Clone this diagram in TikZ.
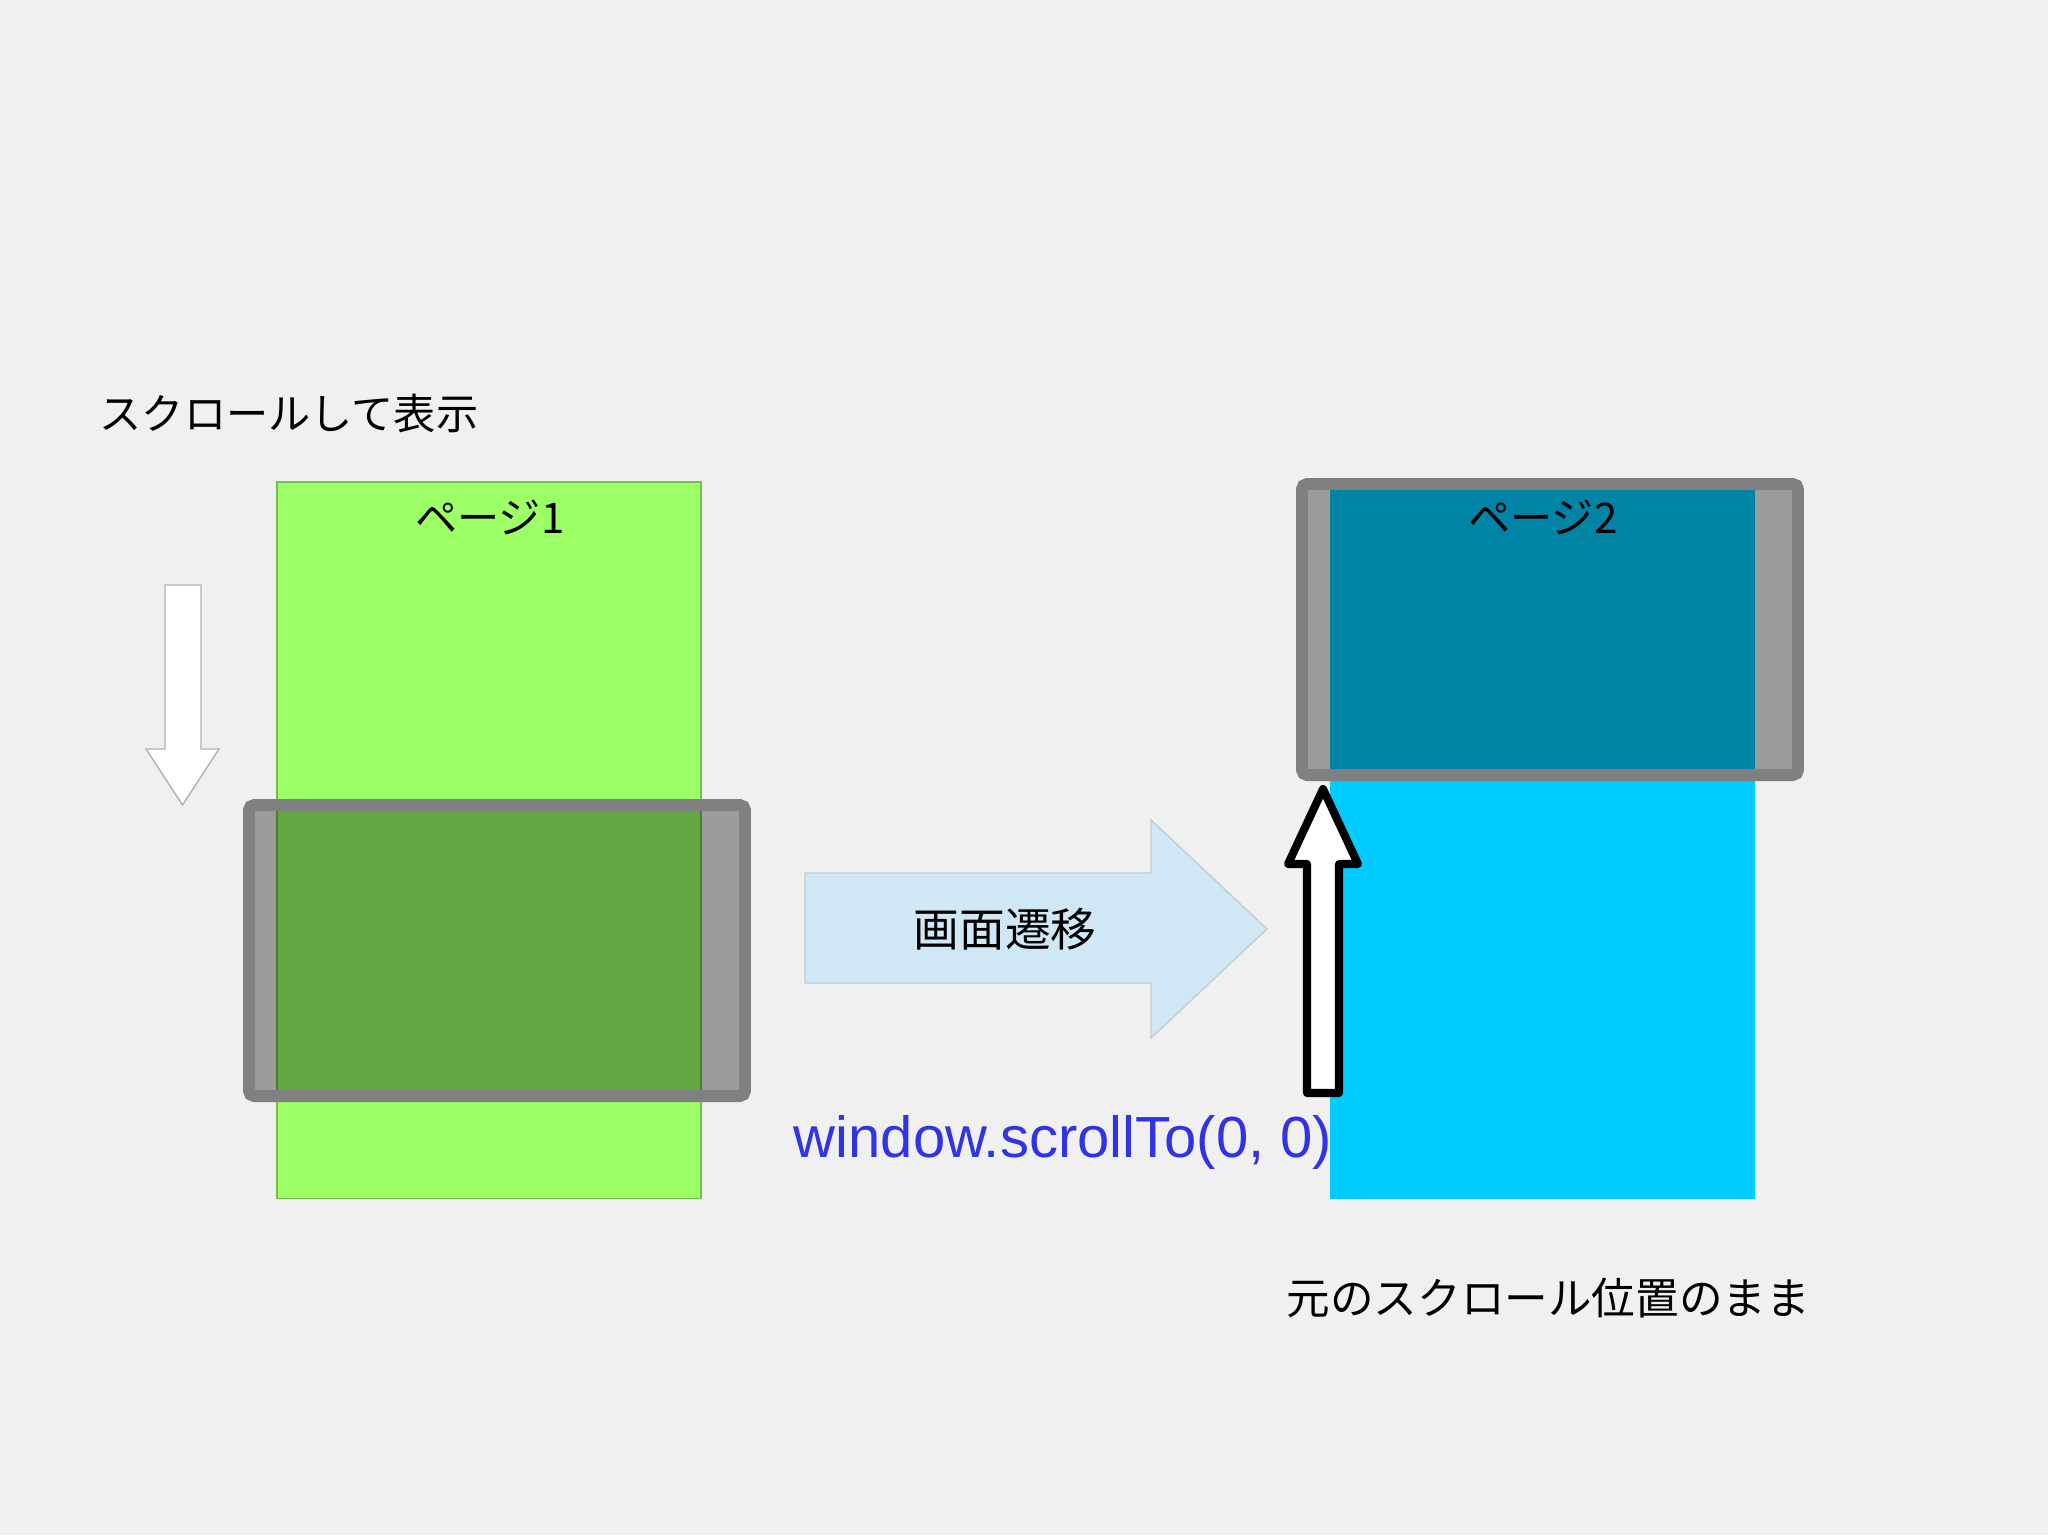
\documentclass[tikz,border=0pt]{standalone}
\usepackage{fontspec}
\setmainfont{Liberation Sans}
\newfontfamily\jpfont{Noto Sans CJK JP}
\definecolor{bgpaper}{RGB}{240,240,240}
\definecolor{pagegreen}{RGB}{155,255,101}
\definecolor{pagecyan}{RGB}{0,204,255}
\definecolor{framegray}{RGB}{128,128,128}
\definecolor{moveblue}{RGB}{208,232,245}
\definecolor{codeblue}{RGB}{51,51,230}
\tikzset{
  viewport/.style={fill=black,fill opacity=0.35,draw=framegray,line width=3.4pt,rounded corners=1.5pt},
  jptext/.style={font=\jpfont\fontsize{12pt}{14pt}\selectfont,inner sep=0pt},
}
\begin{document}
\begin{tikzpicture}[x=0.01cm,y=-0.01cm]
\fill[bgpaper](0,0)rectangle(2048,1535);
\useasboundingbox(0,0)rectangle(2048,1535);
\pgfmathsetmacro{\vw}{496}
\pgfmathsetmacro{\vh}{291}
\filldraw[fill=pagegreen,draw=pagegreen!75!black,line width=0.3pt](277,482)rectangle(701,1198);
\fill[pagecyan](1330,482)rectangle(1755,1199);
\draw[viewport](249,805)rectangle++(\vw,\vh);
\draw[viewport](1302,484)rectangle++(\vw,\vh);
\node[jptext,anchor=west](title)at(99,413){スクロールして表示};
\node[jptext](page1)at(490,517){ページ1};
\node[jptext](page2)at(1543,517){ページ2};
\filldraw[fill=white,draw=black!30,line width=0.4pt](165,585)--(201,585)--(201,749)--(219,749)--(182.5,805)--(146,749)--(165,749)--cycle;
\filldraw[fill=moveblue,draw=moveblue!75!gray,line width=0.4pt](805,873)--(1151,873)--(1151,820)--(1267,929)--(1151,1038)--(1151,983)--(805,983)--cycle;
\node[jptext,font=\jpfont\fontsize{13pt}{15pt}\selectfont](move)at(1005,929){画面遷移};
\filldraw[fill=white,draw=black,line width=2.3pt,line join=round](1307,1093)--(1339,1093)--(1339,864)--(1358,864)--(1323,789)--(1288,864)--(1307,864)--cycle;
\node[inner sep=0pt,anchor=base west,text=codeblue,font=\fontsize{16.5pt}{18pt}\selectfont](code)at(793,1157){window.scrollTo(0, 0)};
\node[jptext,anchor=west,font=\jpfont\fontsize{12.4pt}{14pt}\selectfont](keep)at(1286,1298){元のスクロール位置のまま};
\end{tikzpicture}
\end{document}
